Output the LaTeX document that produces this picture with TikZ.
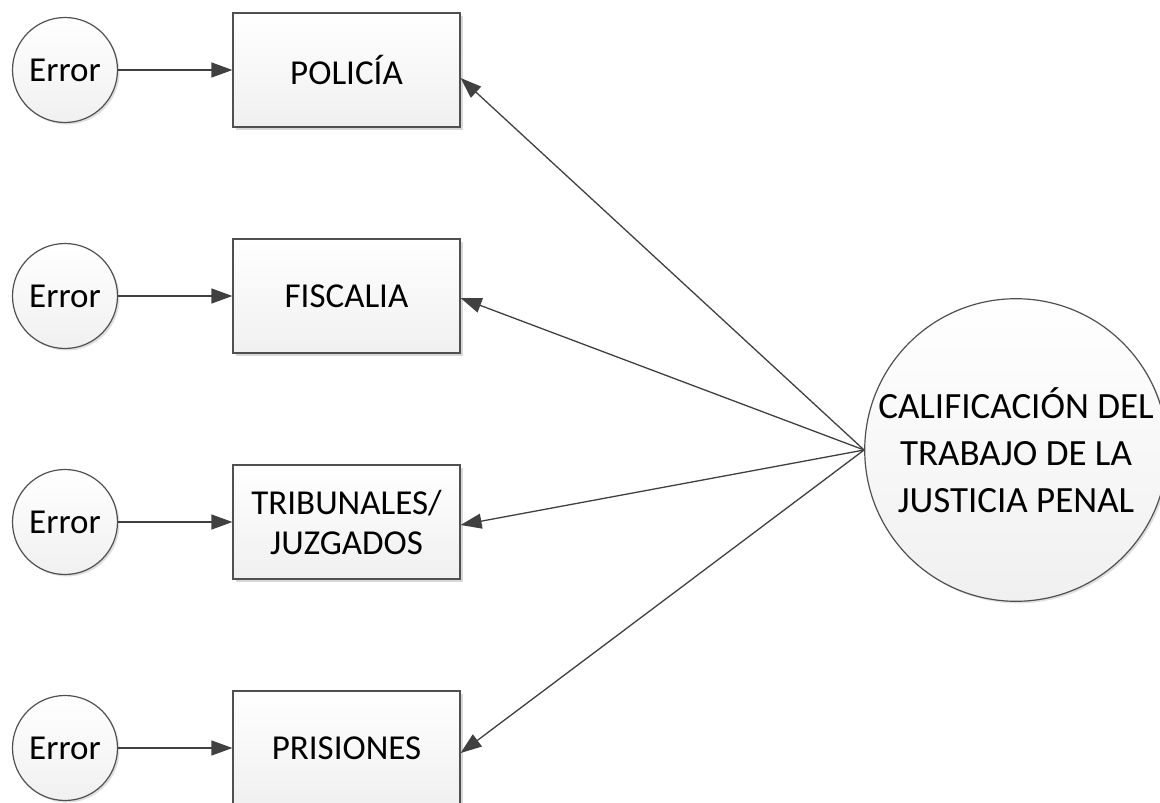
\documentclass[tikz,border=0pt]{standalone}
\usepackage{fontspec}
\setmainfont{Carlito}
\usetikzlibrary{arrows.meta,shadows}
\definecolor{edgec}{HTML}{505050}
\definecolor{arrc}{HTML}{404040}
\definecolor{fillb}{HTML}{F0F0F0}
\begin{document}
\begin{tikzpicture}[x=1pt,y=-1pt,
  errnode/.style={circle,draw=edgec,line width=1.2pt,top color=white,bottom color=fillb,
    minimum size=105pt,inner sep=0pt,font=\fontsize{35}{40}\selectfont,
    drop shadow={shadow xshift=2pt,shadow yshift=-2pt,fill=black!25}},
  boxnode/.style={rectangle,draw=edgec,line width=1.2pt,top color=white,bottom color=fillb,
    minimum width=227pt,minimum height=114pt,inner sep=0pt,align=center,
    font=\fontsize{35}{40}\selectfont,
    drop shadow={shadow xshift=3pt,shadow yshift=-3pt,fill=black!30}},
  bignode/.style={circle,draw=edgec,line width=1.2pt,top color=white,bottom color=fillb,
    minimum size=292pt,inner sep=0pt,align=center,
    font=\fontsize{37}{47}\selectfont,
    drop shadow={shadow xshift=2pt,shadow yshift=-2pt,fill=black!25}},
  conn/.style={draw=arrc,line width=1.3pt,-{Triangle[length=21pt,width=15pt]}}
]
\useasboundingbox (0,0) rectangle (1160,803);
\node[errnode] (e1) at (65,70) {Error};
\node[errnode] (e2) at (65,296) {Error};
\node[errnode] (e3) at (65,522) {Error};
\node[errnode] (e4) at (65,748) {Error};
\node[boxnode] (b1) at (346.5,70) {POLICÍA};
\node[boxnode] (b2) at (346.5,296) {FISCALIA};
\node[boxnode] (b3) at (346.5,522) {TRIBUNALES/\\JUZGADOS};
\node[boxnode] (b4) at (346.5,748) {PRISIONES};
\node[bignode] (c) at (1016,450) {CALIFICACIÓN DEL\\TRABAJO DE LA\\JUSTICIA PENAL};
\foreach \i in {1,2,3,4} {\draw[conn] (e\i) -- (b\i);}
\draw[conn] (c.west) -- ([yshift=-8pt]b1.east);
\draw[conn] (c.west) -- ([yshift=-2pt]b2.east);
\draw[conn] (c.west) -- ([yshift=-3pt]b3.east);
\draw[conn] (c.west) -- ([yshift=-5pt]b4.east);
\end{tikzpicture}
\end{document}
